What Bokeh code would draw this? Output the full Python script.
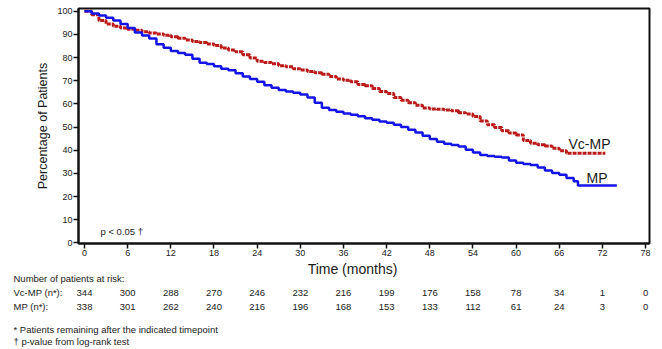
import math
from bokeh.plotting import figure
from bokeh.models import Label, FixedTicker, Range1d
from bokeh.layouts import column
from bokeh.embed import file_html
from bokeh.resources import INLINE

# ---------------- data ----------------
vcmp_t = [0, 1, 2, 3, 4, 5, 6, 7, 8, 9, 10, 11, 12, 13, 14, 15, 16, 17, 18, 19, 20,
          21, 22, 23, 24, 25, 26, 27, 28, 29, 30, 31, 32, 33, 34, 35, 36, 37, 38, 39, 40,
          41, 42, 43, 44, 45, 46, 47, 48, 49, 50, 51, 52, 53, 54, 55, 56, 57, 58, 59, 60,
          61, 62, 63, 64, 65, 66, 67, 72.4]
vcmp_s = [100, 98.5, 96, 94.5, 93.5, 92.8, 92.2, 91.8, 91.2, 90.6, 90.2, 89.6, 89, 88.3,
          87.6, 87, 86.5, 85.9, 85.2, 84.1, 83.3, 82.5, 81.2, 79.8, 78.4, 77.9, 77.3, 76.5,
          76, 75.2, 74.6, 74, 73.5, 72.8, 71.8, 70.8, 70.2, 69.6, 68.4, 67.8, 66.6, 65.3,
          64.5, 62.8, 61.6, 60.5, 59.4, 58.2, 57.8, 57.7, 57.4, 57, 56.2, 55.6, 54.5, 52.6,
          51, 49.8, 48.4, 47.4, 46.6, 44.2, 43, 42.3, 41.8, 40.8, 39.8, 38.7, 38.7]

mp_t = [0, 1, 2, 3, 4, 5, 6, 7, 8, 9, 10, 11, 12, 13, 14, 15, 16, 17, 18, 19, 20,
        21, 22, 23, 24, 25, 26, 27, 28, 29, 30, 31, 32, 33, 34, 35, 36, 37, 38, 39, 40,
        41, 42, 43, 44, 45, 46, 47, 48, 49, 50, 51, 52, 53, 54, 55, 56, 57, 58, 59, 60,
        61, 62, 63, 64, 65, 66, 67, 68, 68.6, 74]
mp_s = [100, 99, 98.2, 97.2, 96, 94.5, 92.8, 90.8, 89.5, 88.2, 85.8, 84.2, 82.8, 82, 81.2,
        79.5, 77.8, 77.2, 76.3, 75.2, 74.5, 73.2, 71.8, 70.8, 69.6, 68, 67, 66, 65.3,
        64.8, 64.1, 62.8, 60.5, 58.3, 57.4, 56.6, 55.8, 55.3, 54.7, 53.8, 53.2, 52.4,
        51.8, 51, 50, 48.8, 47.6, 46.2, 44.8, 43.6, 42.8, 42.2, 41.6, 40.2, 39, 37.9,
        37.5, 37.2, 36.8, 35.5, 34.6, 34, 33.6, 32.5, 31.2, 30.2, 29.4, 28, 26.6, 24.7, 24.7]

risk_months = [0, 6, 12, 18, 24, 30, 36, 42, 48, 54, 60, 66, 72, 78]
risk_vcmp = [344, 300, 288, 270, 246, 232, 216, 199, 176, 158, 78, 34, 1, 0]
risk_mp = [338, 301, 262, 240, 216, 196, 168, 153, 133, 112, 61, 24, 3, 0]

y_ticks = [0, 10, 20, 30, 40, 50, 60, 70, 80, 90, 100]
x_ticks = [0, 6, 12, 18, 24, 30, 36, 42, 48, 54, 60, 66, 72, 78]

# ---------------- layout helpers ----------------
W, H = 662, 349
TOP_H = 260                                # height of the chart figure
FL, FR, FT, FB = 78, 649, 8, 243          # frame pixel edges in chart figure
X0, X1 = -0.834, 78.54
Y0, Y1 = -0.3, 101.2
SX = (X1 - X0) / (FR - FL)                 # months per pixel

def xd(px):
    return X0 + (px - FL) * SX

def yd(py):
    return Y0 + (FB - py) * (Y1 - Y0) / (FB - FT)

RED = "#BB1A1A"
BLUE = "#1414E6"
TXT = "#1a1a1a"
FONT = "Liberation Sans"

p = figure(width=W, height=TOP_H, output_backend="svg", toolbar_location=None,
           x_range=Range1d(X0, X1), y_range=Range1d(Y0, Y1),
           min_border_left=FL, min_border_right=W - FR,
           min_border_top=FT, min_border_bottom=TOP_H - FB)
p.frame_align = False
p.background_fill_color = "white"
p.border_fill_color = "white"
p.outline_line_color = "#111111"
p.outline_line_width = 2
p.xgrid.visible = False
p.ygrid.visible = False

for ax in (p.xaxis[0], p.yaxis[0]):
    ax.axis_line_width = 2
    ax.axis_line_color = "#111111"
    ax.major_tick_line_color = "#111111"
    ax.major_tick_line_width = 1.5
    ax.major_tick_out = 5
    ax.major_tick_in = 0
    ax.minor_tick_line_color = None
    ax.major_label_text_font = FONT
    ax.major_label_text_font_size = "9px"
    ax.major_label_text_color = TXT
p.yaxis[0].ticker = FixedTicker(ticks=y_ticks)
p.xaxis[0].ticker = FixedTicker(ticks=x_ticks)
p.yaxis[0].major_label_standoff = 1
p.xaxis[0].major_label_standoff = 1
p.yaxis[0].axis_label = "Percentage of Patients"
p.yaxis[0].axis_label_text_font = FONT
p.yaxis[0].axis_label_text_font_size = "12.5px"
p.yaxis[0].axis_label_text_font_style = "normal"
p.yaxis[0].axis_label_text_color = TXT
p.yaxis[0].axis_label_standoff = 4

p.step(vcmp_t, vcmp_s, mode="after", line_color=RED, line_width=3, line_dash="4 1")
p.step(mp_t, mp_s, mode="after", line_color=BLUE, line_width=2.5)

def lab(fig, x, y, text, size, align="left", baseline="middle"):
    fig.add_layout(Label(x=x, y=y, text=text, text_font=FONT,
                         text_font_size=f"{size}px", text_color=TXT,
                         text_align=align, text_baseline=baseline))

lab(p, xd(568), yd(143), "Vc-MP", 14)
lab(p, xd(586), yd(177), "MP", 14)
lab(p, xd(100), yd(231), "p < 0.05 \u2020", 9.5)

# ---------------- risk table figure (full-width frame, same month scale) ----------------
BH = H - TOP_H
t = figure(width=W, height=BH, output_backend="svg", toolbar_location=None,
           x_range=Range1d(X0 - FL * SX, X1 + (W - FR) * SX), y_range=Range1d(BH, 0),
           min_border_left=0, min_border_right=0, min_border_top=0, min_border_bottom=0)
t.frame_align = False
t.axis.visible = False
t.xgrid.visible = False
t.ygrid.visible = False
t.outline_line_color = None
t.background_fill_color = "white"
t.border_fill_color = "white"

def tx(px):
    return X0 + (px - FL) * SX

def ty(py):
    return py - TOP_H

lab(t, tx(352), ty(268), "Time (months)", 14, align="center")
lab(t, tx(13), ty(278), "Number of patients  at risk:", 9.5)
lab(t, tx(13), ty(292), "Vc-MP (n*):", 9.5)
lab(t, tx(13), ty(306), "MP (n*):", 9.5)
for m, a, b in zip(risk_months, risk_vcmp, risk_mp):
    lab(t, m, ty(292), str(a), 9.5, align="center")
    lab(t, m, ty(306), str(b), 9.5, align="center")
lab(t, tx(13), ty(329), "*  Patients remaining after the indicated timepoint", 9.5)
lab(t, tx(13), ty(341), "\u2020  p-value from log-rank test", 9.5)

layout = column(p, t, spacing=0)
open("out.html", "w").write(file_html(layout, INLINE))
